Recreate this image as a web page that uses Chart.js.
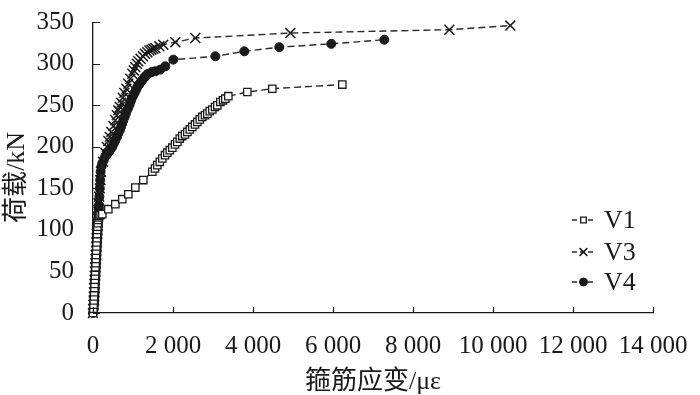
<!DOCTYPE html>
<html>
<head>
<meta charset="utf-8">
<script src="https://cdn.jsdelivr.net/npm/chart.js@4"></script>
<style>
  html, body { margin: 0; padding: 0; background: #fff; }
  #wrap { width: 700px; height: 395px; }
</style>
</head>
<body>
<div id="wrap"><canvas id="chart" width="700" height="395"></canvas></div>
<script>
// strain (με) and load (kN)
const v1Strain = [0, 10, 15, 20, 25, 30, 35, 40, 45, 50, 55, 60, 65, 70, 75, 80, 85, 90, 95, 100,
  105, 110, 120, 130, 140, 160, 190,
  233, 383, 558, 733, 883, 1058, 1258, 1483, 1550, 1608, 1670,
  1733, 1800, 1858, 1920, 1983, 2050, 2108, 2170, 2233, 2300, 2358, 2420, 2483, 2550, 2608, 2670,
  2733, 2800, 2858, 2920, 2983, 3050, 3108, 3183, 3250, 3308, 3383, 3858, 4483, 6233];
const v1Load = [0, 5, 10, 15, 20, 25, 30, 35, 40, 45, 50, 55, 60, 65, 70, 75, 80, 85, 90, 95,
  100, 104, 108, 112, 115, 117, 118,
  119, 125, 131, 137, 143, 151, 160, 170, 174, 178, 182,
  186, 190, 193, 196, 199, 203, 206, 210, 213, 215, 218, 221, 224, 227, 230, 233,
  236, 238, 240, 243, 245, 248, 250, 254, 256, 258, 261, 266, 270, 275];

const v3Strain = [0, 5, 10, 15, 20, 25, 30, 35, 40, 45, 50, 55, 60, 65, 70, 75, 80, 85, 90, 95,
  100, 110, 120, 130, 140, 155, 170, 185, 200, 250,
  308, 345, 383, 420, 458, 510, 558, 595, 633, 670, 708, 745, 783, 833, 883, 933, 983, 1020, 1058,
  1095, 1133, 1190, 1250, 1300, 1358, 1410, 1460, 1510, 1558, 1660, 1758, 2058, 2558, 4933, 8908, 10433];
const v3Load = [0, 5, 10, 15, 20, 25, 30, 35, 40, 45, 50, 55, 60, 65, 70, 75, 80, 85, 90, 95,
  100, 108, 116, 124, 132, 140, 150, 160, 170, 182,
  193, 200, 207, 212, 218, 225, 232, 238, 244, 248, 253, 259, 265, 270, 276, 282, 288, 292, 296,
  300, 303, 306, 309, 312, 314, 316, 317, 318, 319, 321, 323, 326, 331, 337, 341, 346];

const v4Strain = [0, 20, 30, 35, 40, 45, 50, 55, 60, 65, 70, 75, 80, 85, 90, 95, 100, 105, 110, 115,
  120, 125, 130, 135, 140, 145, 150, 160, 170, 180, 190, 210, 230, 270,
  308, 350, 400, 440, 483, 520, 560, 600, 633, 670, 700, 730, 758, 790, 820, 850, 883, 915, 945,
  975, 1008, 1040, 1070, 1100, 1133, 1165, 1195, 1225, 1258, 1290, 1320, 1350, 1383, 1470,
  1558, 1683, 1808, 2008, 3058, 3783, 4658, 5958, 7283];
const v4Load = [0, 5, 10, 15, 20, 25, 30, 35, 40, 45, 50, 55, 60, 65, 70, 75, 80, 85, 90, 95,
  100, 105, 110, 115, 120, 125, 130, 140, 150, 160, 170, 176, 180, 184,
  189, 191, 194, 197, 200, 204, 208, 212, 216, 220, 224, 228, 232, 236, 240, 244, 247, 251, 255,
  259, 262, 265, 268, 271, 274, 276, 278, 280, 282, 284, 285, 287, 288, 290,
  291, 293, 297, 305, 309, 315, 320, 324, 329];

const seriesNames = ['V1', 'V3', 'V4'];
const xTickValues = [0, 2000, 4000, 6000, 8000, 10000, 12000, 14000];
const yTickValues = [0, 50, 100, 150, 200, 250, 300, 350];

const serif = "'Liberation Serif', 'Noto Sans CJK SC', serif";
const ink = '#1a1a1a';

const toPoints = (xs, ys) => xs.map((x, i) => ({ x: x, y: ys[i] }));
const spaced = (v) => String(v).replace(/\B(?=(\d{3})+(?!\d))/g, ' ');

const seriesStyle = [
  { pointStyle: 'rect', pointRadius: 5.2, pointBackgroundColor: '#fff', pointBorderWidth: 1.3 },
  { pointStyle: 'crossRot', pointRadius: 7, pointBackgroundColor: ink, pointBorderWidth: 1.5 },
  { pointStyle: 'circle', pointRadius: 4.5, pointBackgroundColor: ink, pointBorderWidth: 1 },
];

const makeDataset = (label, xs, ys, i) => ({
  label: label,
  data: toPoints(xs, ys),
  showLine: true,
  borderColor: '#2a2a2a',
  borderWidth: 1.4,
  borderDash: [7, 4],
  pointBorderColor: ink,
  pointHoverRadius: seriesStyle[i].pointRadius,
  clip: false,
  ...seriesStyle[i],
});

// small tick marks pointing into the plot
const innerTicks = {
  id: 'innerTicks',
  afterDraw: (chart) => {
    const { ctx, chartArea, scales } = chart;
    ctx.save();
    ctx.strokeStyle = ink;
    ctx.lineWidth = 1.2;
    ctx.beginPath();
    xTickValues.forEach((v) => {
      const px = Math.round(scales.x.getPixelForValue(v)) + 0.5;
      ctx.moveTo(px, chartArea.bottom);
      ctx.lineTo(px, chartArea.bottom - 6);
    });
    yTickValues.forEach((v) => {
      const py = Math.round(scales.y.getPixelForValue(v)) + 0.5;
      ctx.moveTo(chartArea.left, py);
      ctx.lineTo(chartArea.left + 7, py);
    });
    ctx.stroke();
    ctx.restore();
  },
};

// legend: dashed stub + marker + name
const lineLegend = {
  id: 'lineLegend',
  afterDraw: (chart) => {
    const { ctx } = chart;
    const x0 = 572, x1 = 595, tx = 604;
    const rows = [220, 252, 282];
    chart.data.datasets.forEach((ds, i) => {
      const y = rows[i];
      ctx.save();
      ctx.strokeStyle = ds.borderColor;
      ctx.lineWidth = ds.borderWidth;
      ctx.setLineDash([5, 3]);
      ctx.beginPath();
      ctx.moveTo(x0, y);
      ctx.lineTo(x1, y);
      ctx.stroke();
      ctx.setLineDash([]);
      ctx.fillStyle = ds.pointBackgroundColor;
      ctx.strokeStyle = ds.pointBorderColor;
      ctx.lineWidth = ds.pointBorderWidth;
      Chart.helpers.drawPoint(ctx, {
        pointStyle: ds.pointStyle,
        radius: ds.pointStyle === 'crossRot' ? 5.5 : 4,
        borderWidth: ds.pointBorderWidth,
        rotation: 0,
      }, (x0 + x1) / 2, y);
      ctx.fillStyle = ink;
      ctx.font = `26px ${serif}`;
      ctx.textBaseline = 'middle';
      ctx.fillText(ds.label, tx, y + 1);
      ctx.restore();
    });
  },
};

const ctx = document.getElementById('chart').getContext('2d');
new Chart(ctx, {
  type: 'scatter',
  data: {
    datasets: [
      makeDataset(seriesNames[0], v1Strain, v1Load, 0),
      makeDataset(seriesNames[1], v3Strain, v3Load, 1),
      makeDataset(seriesNames[2], v4Strain, v4Load, 2),
    ],
  },
  options: {
    responsive: false,
    animation: false,
    layout: { padding: { left: 0, right: 47, top: 0, bottom: 0 } },
    plugins: {
      legend: { display: false },
      tooltip: { enabled: false },
    },
    scales: {
      x: {
        type: 'linear',
        min: 0,
        max: 14000,
        afterBuildTicks: (scale) => {
          scale.ticks = xTickValues.map((v) => ({ value: v }));
        },
        afterFit: (scale) => {
          scale.height = 82;
        },
        grid: { display: false },
        border: { display: true, color: ink, width: 1.3 },
        ticks: {
          color: ink,
          padding: 10,
          maxRotation: 0,
          autoSkip: false,
          font: { family: serif, size: 25 },
          callback: (v) => spaced(v),
        },
        title: {
          display: true,
          text: '箍筋应变/με',
          color: ink,
          padding: { top: 4, bottom: 0 },
          font: { family: serif, size: 26, lineHeight: 1.0 },
        },
      },
      y: {
        type: 'linear',
        min: 0,
        max: 350,
        afterBuildTicks: (scale) => {
          scale.ticks = yTickValues.map((v) => ({ value: v }));
        },
        afterFit: (scale) => {
          scale.width = 93;
        },
        grid: { display: false },
        border: { display: true, color: ink, width: 1.3 },
        ticks: {
          color: ink,
          padding: 11,
          autoSkip: false,
          font: { family: serif, size: 25, lineHeight: 0.9 },
        },
        title: {
          display: true,
          text: '荷载/kN   ',
          color: ink,
          padding: { top: 4, bottom: 0 },
          font: { family: serif, size: 26, lineHeight: 1.0 },
        },
      },
    },
  },
  plugins: [innerTicks, lineLegend],
});
</script>
</body>
</html>
